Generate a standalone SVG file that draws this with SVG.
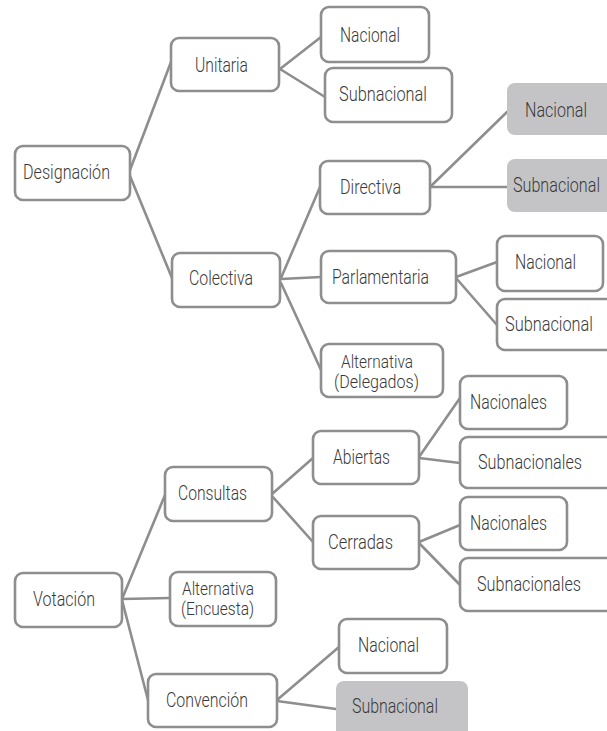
<svg xmlns="http://www.w3.org/2000/svg" width="607" height="731" viewBox="0 0 607 731">
<style>
.b{fill:#fff;stroke:#8e8e8e;stroke-width:2.6}
.g{fill:#c4c4c6;stroke:none}
.t{font-family:Roboto,"Liberation Sans",Arial,sans-serif;font-weight:300;font-size:20.5px;fill:#3a3a3a}
.t2{font-size:18.5px}
.c line{stroke:#8e8e8e;stroke-width:2.6;stroke-linecap:round}
</style>
<rect width="607" height="731" fill="#fff"/>
<g class="c" id="connectors">
<line x1="130" y1="170" x2="171" y2="62"/>
<line x1="130" y1="176" x2="172" y2="278"/>
<line x1="280" y1="69" x2="321" y2="37"/>
<line x1="280" y1="69" x2="325" y2="97"/>
<line x1="281" y1="278" x2="320" y2="187"/>
<line x1="281" y1="279" x2="321" y2="277"/>
<line x1="281" y1="283" x2="321" y2="370"/>
<line x1="431" y1="186" x2="507" y2="112"/>
<line x1="431" y1="187" x2="507" y2="187"/>
<line x1="456" y1="277" x2="497" y2="262"/>
<line x1="456" y1="278" x2="497" y2="325"/>
<line x1="122" y1="599" x2="165" y2="495"/>
<line x1="122" y1="599" x2="170" y2="598"/>
<line x1="122" y1="600" x2="148" y2="700"/>
<line x1="272" y1="494" x2="313" y2="458"/>
<line x1="272" y1="496" x2="313" y2="542"/>
<line x1="419" y1="457" x2="460" y2="398"/>
<line x1="419" y1="458" x2="460" y2="463"/>
<line x1="419" y1="542" x2="460" y2="525"/>
<line x1="419" y1="543" x2="460" y2="585"/>
<line x1="277" y1="700" x2="339" y2="647"/>
<line x1="277" y1="701" x2="336" y2="709"/>
</g>
<g id="designacion"><rect class="b" x="15" y="146" width="115" height="54" rx="8"/><text class="t" x="23" y="179" textLength="87" lengthAdjust="spacingAndGlyphs">Designación</text></g>
<g id="unitaria"><rect class="b" x="171" y="38" width="108" height="53" rx="8"/><text class="t" x="195" y="71.5" textLength="53" lengthAdjust="spacingAndGlyphs">Unitaria</text></g>
<g id="unitaria-nacional"><rect class="b" x="321" y="7" width="108" height="55" rx="8"/><text class="t" x="340" y="42" textLength="60" lengthAdjust="spacingAndGlyphs">Nacional</text></g>
<g id="unitaria-subnacional"><rect class="b" x="325" y="68" width="127" height="54" rx="8"/><text class="t" x="339" y="101" textLength="88" lengthAdjust="spacingAndGlyphs">Subnacional</text></g>
<g id="colectiva"><rect class="b" x="172" y="253" width="108" height="54" rx="8"/><text class="t" x="189" y="285" textLength="64" lengthAdjust="spacingAndGlyphs">Colectiva</text></g>
<g id="directiva"><rect class="b" x="320" y="161" width="110" height="53" rx="8"/><text class="t" x="340" y="194" textLength="61" lengthAdjust="spacingAndGlyphs">Directiva</text></g>
<g id="directiva-nacional"><path class="g" d="M607 83H515A8 8 0 0 0 507 91V127A8 8 0 0 0 515 135H607Z"/><text class="t" x="525" y="117" textLength="62" lengthAdjust="spacingAndGlyphs">Nacional</text></g>
<g id="directiva-subnacional"><path class="g" d="M607 159H515A8 8 0 0 0 507 167V204A8 8 0 0 0 515 212H607Z"/><text class="t" x="513" y="192" textLength="87" lengthAdjust="spacingAndGlyphs">Subnacional</text></g>
<g id="parlamentaria"><rect class="b" x="321" y="251" width="135" height="52" rx="8"/><text class="t" x="332" y="283.5" textLength="97" lengthAdjust="spacingAndGlyphs">Parlamentaria</text></g>
<g id="parlamentaria-nacional"><rect class="b" x="497" y="236" width="106" height="55" rx="8"/><text class="t" x="515" y="269" textLength="61" lengthAdjust="spacingAndGlyphs">Nacional</text></g>
<g id="parlamentaria-subnacional"><path class="b" d="M607 299H505A8 8 0 0 0 497 307V342A8 8 0 0 0 505 350H607"/><text class="t" x="505" y="331" textLength="88" lengthAdjust="spacingAndGlyphs">Subnacional</text></g>
<g id="alternativa-delegados"><rect class="b" x="321" y="344" width="122" height="53" rx="8"/><text class="t t2" x="341" y="367.5" textLength="72" lengthAdjust="spacingAndGlyphs">Alternativa</text><text class="t t2" x="334" y="388" textLength="85" lengthAdjust="spacingAndGlyphs">(Delegados)</text></g>
<g id="votacion"><rect class="b" x="15" y="573" width="107" height="54" rx="8"/><text class="t" x="33" y="606" textLength="62" lengthAdjust="spacingAndGlyphs">Votación</text></g>
<g id="consultas"><rect class="b" x="165" y="467" width="107" height="54" rx="8"/><text class="t" x="178" y="500" textLength="69" lengthAdjust="spacingAndGlyphs">Consultas</text></g>
<g id="abiertas"><rect class="b" x="313" y="431" width="106" height="53" rx="8"/><text class="t" x="333" y="463.5" textLength="57" lengthAdjust="spacingAndGlyphs">Abiertas</text></g>
<g id="abiertas-nacionales"><rect class="b" x="460" y="376" width="107" height="53" rx="8"/><text class="t" x="470" y="408.5" textLength="77" lengthAdjust="spacingAndGlyphs">Nacionales</text></g>
<g id="abiertas-subnacionales"><path class="b" d="M607 437H468A8 8 0 0 0 460 445V480A8 8 0 0 0 468 488H607"/><text class="t" x="478" y="469" textLength="104" lengthAdjust="spacingAndGlyphs">Subnacionales</text></g>
<g id="cerradas"><rect class="b" x="313" y="516" width="106" height="53" rx="8"/><text class="t" x="328" y="548.5" textLength="65" lengthAdjust="spacingAndGlyphs">Cerradas</text></g>
<g id="cerradas-nacionales"><rect class="b" x="460" y="497" width="107" height="53" rx="8"/><text class="t" x="470" y="530" textLength="77" lengthAdjust="spacingAndGlyphs">Nacionales</text></g>
<g id="cerradas-subnacionales"><path class="b" d="M607 558H468A8 8 0 0 0 460 566V603A8 8 0 0 0 468 611H607"/><text class="t" x="477" y="591" textLength="104" lengthAdjust="spacingAndGlyphs">Subnacionales</text></g>
<g id="alternativa-encuesta"><rect class="b" x="170" y="572" width="106" height="54" rx="8"/><text class="t t2" x="182" y="594.5" textLength="72" lengthAdjust="spacingAndGlyphs">Alternativa</text><text class="t t2" x="181" y="615" textLength="73" lengthAdjust="spacingAndGlyphs">(Encuesta)</text></g>
<g id="convencion"><rect class="b" x="148" y="674" width="129" height="53" rx="8"/><text class="t" x="166" y="707" textLength="82" lengthAdjust="spacingAndGlyphs">Convención</text></g>
<g id="convencion-nacional"><rect class="b" x="339" y="619" width="108" height="54" rx="8"/><text class="t" x="358" y="652" textLength="61" lengthAdjust="spacingAndGlyphs">Nacional</text></g>
<g id="convencion-subnacional"><path class="g" d="M336 731V689A8 8 0 0 1 344 681H460A8 8 0 0 1 468 689V731Z"/><text class="t" x="352" y="713" textLength="86" lengthAdjust="spacingAndGlyphs">Subnacional</text></g>
</svg>
